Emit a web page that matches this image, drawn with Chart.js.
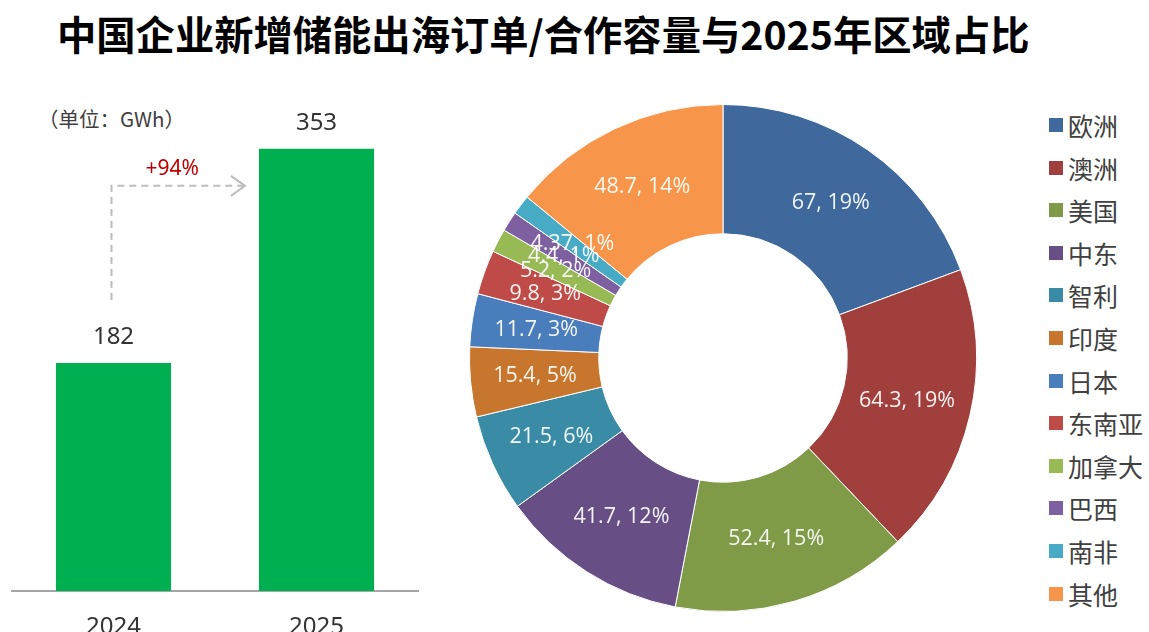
<!DOCTYPE html>
<html><head><meta charset="utf-8">
<script src="https://cdn.jsdelivr.net/npm/chart.js@4.4.1/dist/chart.umd.min.js"></script>
<style>
body{margin:0;width:1149px;height:632px;overflow:hidden;background:#fff;position:relative;font-family:"Noto Sans CJK SC","Noto Sans",sans-serif;}
#title{position:absolute;left:57px;top:13px;line-height:39px;font-size:39.3px;font-weight:bold;color:#000;white-space:nowrap;}
#unit{position:absolute;left:38px;top:106px;font-size:20.5px;line-height:24px;color:#404040;white-space:nowrap;}
#barWrap{position:absolute;left:0;top:0;width:430px;height:632px;}
#pieWrap{position:absolute;left:469px;top:104px;width:508px;height:508px;}
#legend{position:absolute;left:1049px;top:0;}
.li{position:absolute;left:0;white-space:nowrap;font-size:25px;line-height:28px;color:#404040;}
.sw{position:absolute;left:0;top:7px;width:14px;height:14px;}
.lt{position:absolute;left:19px;top:0;}
</style></head>
<body>
<div id="title">中国企业新增储能出海订单/合作容量与2025年区域占比</div>
<div id="unit">（单位：GWh）</div>
<div id="barWrap"><canvas id="bar"></canvas></div>
<div id="pieWrap"><canvas id="pie"></canvas></div>
<div id="legend"></div>
<script>
// ---- data ----
const years = ['2024', '2025'];
const capacity = [182, 353];
const growthLabel = '+94%';

const regions = ['欧洲','澳洲','美国','中东','智利','印度','日本','东南亚','加拿大','巴西','南非','其他'];
const regionValues = [67, 64.3, 52.4, 41.7, 21.5, 15.4, 11.7, 9.8, 5.2, 4.4, 4.37, 48.7];
const regionPercents = ['19%','19%','15%','12%','6%','5%','3%','3%','2%','1%','1%','14%'];
const regionColors = ['#3F689C','#A03F3C','#7F9B48','#674F86','#3A8CA6','#C8762D','#4A7DBB','#BE4B48','#98BA55','#7E60A0','#47ABC5','#F7964A'];

// ---- bar chart ----
const barLabels = {
  id:'barLabels',
  afterDatasetsDraw(chart){
    const ctx = chart.ctx;
    const meta = chart.getDatasetMeta(0);
    ctx.save();
    ctx.fillStyle = '#333';
    ctx.font = '24px "Noto Sans", sans-serif';
    ctx.textAlign = 'center';
    ctx.textBaseline = 'middle';
    meta.data.forEach((b,i)=>{
      ctx.fillText(String(capacity[i]), b.x, b.y - 26);
    });
    const b0 = meta.data[0], b1 = meta.data[1];
    const x0 = b0.x - 2;
    const yH = b1.y + 37;
    const xEnd = b1.x - b1.width/2 - 14;
    ctx.strokeStyle = '#BDBDBD';
    ctx.lineWidth = 2;
    ctx.setLineDash([7,5]);
    ctx.beginPath();
    ctx.moveTo(x0, b0.y - 63);
    ctx.lineTo(x0, yH);
    ctx.lineTo(xEnd - 2, yH);
    ctx.stroke();
    ctx.setLineDash([]);
    ctx.beginPath();
    ctx.moveTo(xEnd - 14, yH - 10);
    ctx.lineTo(xEnd, yH);
    ctx.lineTo(xEnd - 14, yH + 10);
    ctx.stroke();
    ctx.fillStyle = '#C00000';
    ctx.font = '21px "Noto Sans", sans-serif';
    ctx.fillText(growthLabel, (x0 + xEnd)/2 - 6, yH - 17);
    ctx.restore();
  }
};
new Chart(document.getElementById('bar'), {
  type:'bar',
  data:{labels:years, datasets:[{data:capacity, backgroundColor:'#00B050', barPercentage:0.567, categoryPercentage:1}]},
  options:{
    responsive:true, maintainAspectRatio:false, animation:false,
    layout:{padding:{top:90, left:12, right:12, bottom:0}},
    plugins:{legend:{display:false}, tooltip:{enabled:false}},
    scales:{
      y:{display:false, min:0, max:400},
      x:{
        grid:{display:false, drawTicks:false},
        border:{display:true, color:'#A6A6A6', width:2},
        ticks:{color:'#333', font:{size:24, family:'"Noto Sans", sans-serif'}, padding:22},
        afterFit(s){ s.height = 41; }
      }
    }
  },
  plugins:[barLabels]
});

// ---- doughnut ----
const pieLabels = {
  id:'pieLabels',
  afterDatasetsDraw(chart){
    const ctx = chart.ctx;
    const meta = chart.getDatasetMeta(0);
    ctx.save();
    ctx.font = '21.5px "Open Sans", sans-serif';
    ctx.textAlign = 'center';
    ctx.textBaseline = 'middle';
    ctx.fillStyle = 'rgba(255,255,255,0.93)';
    meta.data.forEach((a,i)=>{
      const p = a.getProps(['x','y','startAngle','endAngle','innerRadius','outerRadius']);
      const mid = (p.startAngle + p.endAngle)/2;
      const r = (p.innerRadius + p.outerRadius)/2;
      ctx.fillText(regionValues[i] + ', ' + regionPercents[i], p.x + Math.cos(mid)*r, p.y + Math.sin(mid)*r);
    });
    ctx.restore();
  }
};
new Chart(document.getElementById('pie'), {
  type:'doughnut',
  data:{labels:regions, datasets:[{data:regionValues, backgroundColor:regionColors, borderColor:'#ffffff', borderWidth:1}]},
  options:{
    responsive:true, maintainAspectRatio:false, animation:false,
    cutout:'49%',
    layout:{padding:0},
    plugins:{legend:{display:false}, tooltip:{enabled:false}}
  },
  plugins:[pieLabels]
});

// ---- legend ----
const leg = document.getElementById('legend');
const rowY0 = 111, rowStep = 42.6;
regions.forEach((r,i)=>{
  const d = document.createElement('div');
  d.className = 'li';
  d.style.top = (rowY0 + i*rowStep) + 'px';
  d.innerHTML = '<span class="sw" style="background:'+regionColors[i]+'"></span><span class="lt">'+r+'</span>';
  leg.appendChild(d);
});
</script>
</body></html>
